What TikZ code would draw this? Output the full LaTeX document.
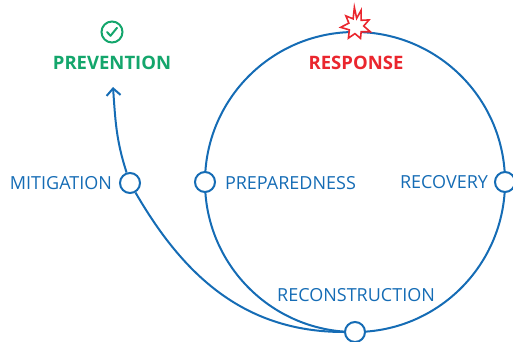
\documentclass[tikz,border=0pt]{standalone}
\usepackage{fontspec}
\setmainfont{Open Sans}
\usetikzlibrary{arrows.meta}
\definecolor{cycleblue}{RGB}{21,108,181}
\definecolor{prevgreen}{RGB}{20,166,108}
\definecolor{respred}{RGB}{234,38,46}
\begin{document}
\begin{tikzpicture}[x=1pt,y=1pt,line width=2pt,
    stage node/.style={circle,draw=cycleblue,fill=white,minimum size=20pt,inner sep=0pt,line width=2pt},
    stage label/.style={text=cycleblue,font=\fontsize{18}{20}\selectfont,inner sep=0pt},
    head label/.style={font=\fontsize{18.5}{21}\selectfont\bfseries,inner sep=0pt}]
        \useasboundingbox (0,0) rectangle (513,341);

        % the response cycle
        \draw[cycleblue] (355,159) circle (150);

        \node[stage node] at (205,159) (prep) {};
        \node[stage node] at (505,159) (recov) {};
        \node[stage node] at (355,9) (recon) {};
        \node[stage node] at (130,158) (mitig) {};
        \coordinate (tip) at (113,254);

        \path[cycleblue]
            (recon) edge[out=180,in=-60] (mitig)
            (mitig) edge[out=108,in=-86,-{Straight Barb[length=7pt,width=14pt]}] (tip)
            ;

        \node[stage label,anchor=east] at (113,158) (mitigtext) {MITIGATION};
        \node[stage label,anchor=west] at (224,158) (preptext) {PREPAREDNESS};
        \node[stage label,anchor=east] at (489,159) (recovtext) {RECOVERY};
        \node[stage label] at (356,46) (recontext) {RECONSTRUCTION};

        \node[head label,text=prevgreen] at (112,278) (prevtext) {PREVENTION};
        \node[head label,text=respred] at (356,278) (resptext) {RESPONSE};

        % check mark
        \node[circle,draw=prevgreen,minimum size=21pt,inner sep=0pt,line width=2pt] at (112,309) (check) {};
        \draw[prevgreen,line cap=round,line join=round] ([shift={(-5,0)}]check.center) -- ++(3.5,-3.8) -- ++(6.5,8);

        % burst
        \draw[respred,fill=white,line width=1.6pt,line join=miter,shift={(356,315)},scale=1.1]
            (95:17) \foreach \a/\r in {112/7,135/13,158/7,185/14,210/7,238/13,262/7,290/12,312/7,338/14,0/7,25/13,48/7,72/15,85/7} { -- (\a:\r)} -- cycle;
\end{tikzpicture}
\end{document}
